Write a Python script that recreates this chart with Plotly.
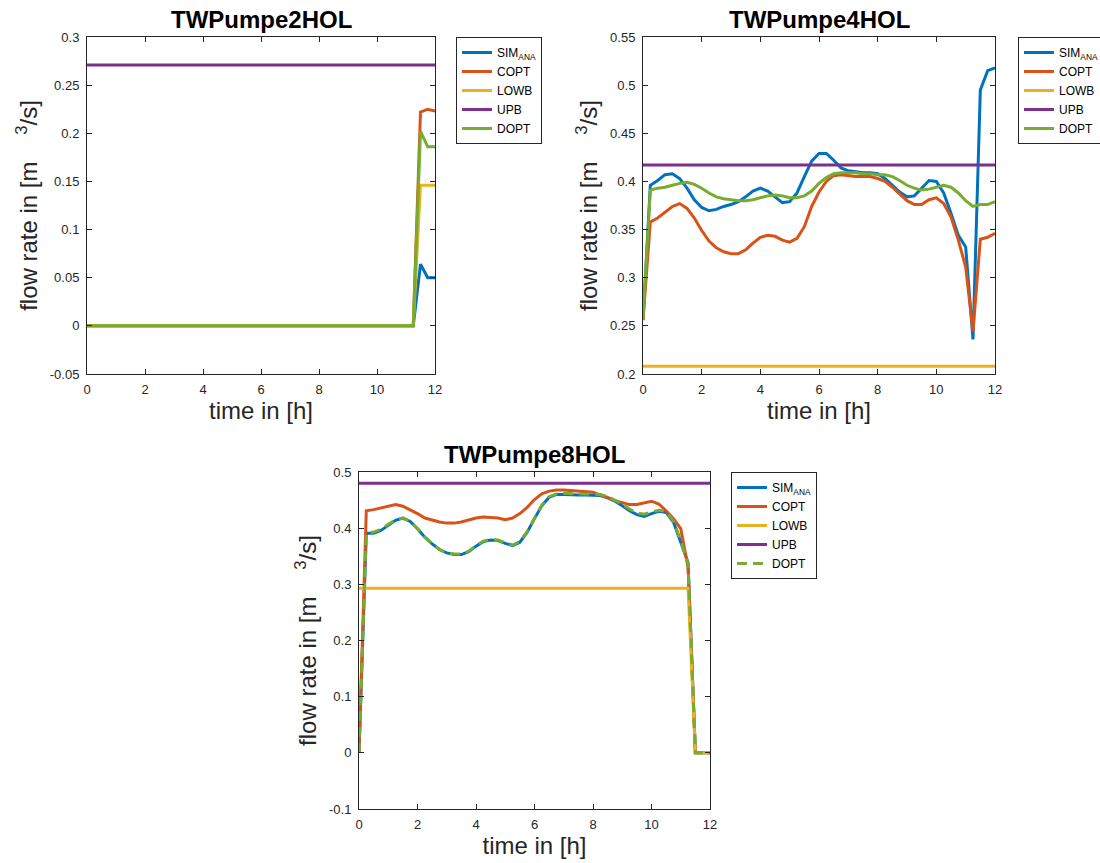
import plotly.graph_objects as go

# ---------------- data ----------------
T = [0, 0.25, 0.5, 0.75, 1, 1.25, 1.5, 1.75, 2, 2.25, 2.5, 2.75, 3, 3.25, 3.5, 3.75,
     4, 4.25, 4.5, 4.75, 5, 5.25, 5.5, 5.75, 6, 6.25, 6.5, 6.75, 7, 7.25, 7.5, 7.75,
     8, 8.25, 8.5, 8.75, 9, 9.25, 9.5, 9.75, 10, 10.25, 10.5, 10.75, 11, 11.25, 11.5, 11.75, 12]

# TWPumpe2HOL
P2_SIM = [0, 0, 0, 0, 0, 0, 0, 0, 0, 0, 0, 0, 0, 0, 0, 0,
          0, 0, 0, 0, 0, 0, 0, 0, 0, 0, 0, 0, 0, 0, 0, 0,
          0, 0, 0, 0, 0, 0, 0, 0, 0, 0, 0, 0, 0, 0, 0.064, 0.050, 0.050]
P2_COPT = [0, 0, 0, 0, 0, 0, 0, 0, 0, 0, 0, 0, 0, 0, 0, 0,
           0, 0, 0, 0, 0, 0, 0, 0, 0, 0, 0, 0, 0, 0, 0, 0,
           0, 0, 0, 0, 0, 0, 0, 0, 0, 0, 0, 0, 0, 0, 0.222, 0.225, 0.223]
P2_LOWB = [0, 0, 0, 0, 0, 0, 0, 0, 0, 0, 0, 0, 0, 0, 0, 0,
           0, 0, 0, 0, 0, 0, 0, 0, 0, 0, 0, 0, 0, 0, 0, 0,
           0, 0, 0, 0, 0, 0, 0, 0, 0, 0, 0, 0, 0, 0, 0.146, 0.146, 0.146]
P2_UPB = [0.271, 0.271]
P2_UPB_T = [0, 12]
P2_DOPT = [0, 0, 0, 0, 0, 0, 0, 0, 0, 0, 0, 0, 0, 0, 0, 0,
           0, 0, 0, 0, 0, 0, 0, 0, 0, 0, 0, 0, 0, 0, 0, 0,
           0, 0, 0, 0, 0, 0, 0, 0, 0, 0, 0, 0, 0, 0, 0.202, 0.186, 0.186]

# TWPumpe4HOL
P4_SIM = [0.256, 0.396, 0.401, 0.407, 0.408, 0.403, 0.393, 0.381, 0.373, 0.3695, 0.371, 0.374,
          0.376, 0.379, 0.384, 0.390, 0.393, 0.390, 0.384, 0.378, 0.379, 0.388, 0.405, 0.421,
          0.429, 0.429, 0.422, 0.414, 0.411, 0.410, 0.409, 0.409, 0.408, 0.403, 0.396, 0.389,
          0.384, 0.385, 0.393, 0.401, 0.400, 0.388, 0.367, 0.344, 0.332, 0.236, 0.495, 0.515, 0.518]
P4_COPT = [0.256, 0.358, 0.362, 0.368, 0.374, 0.377, 0.372, 0.362, 0.349, 0.338, 0.331, 0.327,
           0.325, 0.325, 0.329, 0.336, 0.342, 0.344, 0.343, 0.339, 0.337, 0.341, 0.353, 0.374,
           0.389, 0.400, 0.406, 0.407, 0.406, 0.405, 0.405, 0.405, 0.403, 0.400, 0.394, 0.387,
           0.380, 0.376, 0.376, 0.381, 0.383, 0.377, 0.363, 0.339, 0.311, 0.244, 0.340, 0.342, 0.346]
P4_LOWB = [0.208, 0.208]
P4_UPB = [0.417, 0.417]
P4_B_T = [0, 12]
P4_DOPT = [0.256, 0.391, 0.393, 0.394, 0.396, 0.398, 0.399, 0.397, 0.393, 0.388, 0.384, 0.382,
           0.381, 0.380, 0.380, 0.381, 0.383, 0.385, 0.386, 0.385, 0.383, 0.383, 0.385, 0.390,
           0.398, 0.404, 0.408, 0.409, 0.409, 0.409, 0.408, 0.408, 0.407, 0.407, 0.405, 0.401,
           0.396, 0.393, 0.391, 0.392, 0.394, 0.396, 0.394, 0.388, 0.380, 0.374, 0.376, 0.376, 0.379]

# TWPumpe8HOL
P8_SIM = [0, 0.391, 0.391, 0.396, 0.405, 0.414, 0.418, 0.412, 0.399, 0.384, 0.372, 0.362,
          0.356, 0.353, 0.353, 0.358, 0.368, 0.376, 0.379, 0.378, 0.373, 0.369, 0.375, 0.393,
          0.417, 0.440, 0.455, 0.460, 0.460, 0.459, 0.459, 0.459, 0.459, 0.458, 0.454, 0.448,
          0.440, 0.431, 0.424, 0.421, 0.426, 0.430, 0.428, 0.411, 0.375, 0.339, 0, 0, 0]
P8_COPT = [0, 0.431, 0.433, 0.436, 0.440, 0.442, 0.439, 0.433, 0.426, 0.418, 0.414, 0.411,
           0.409, 0.409, 0.411, 0.415, 0.418, 0.420, 0.419, 0.418, 0.415, 0.418, 0.426, 0.437,
           0.451, 0.461, 0.466, 0.468, 0.468, 0.467, 0.467, 0.466, 0.464, 0.459, 0.455, 0.449,
           0.445, 0.442, 0.442, 0.445, 0.448, 0.443, 0.431, 0.417, 0.399, 0.330, 0, 0, 0]
P8_LOWB = [0.293, 0.293, 0.293, 0.293, 0.293, 0.293, 0.293, 0.293, 0.293, 0.293, 0.293, 0.293,
           0.293, 0.293, 0.293, 0.293, 0.293, 0.293, 0.293, 0.293, 0.293, 0.293, 0.293, 0.293,
           0.293, 0.293, 0.293, 0.293, 0.293, 0.293, 0.293, 0.293, 0.293, 0.293, 0.293, 0.293,
           0.293, 0.293, 0.293, 0.293, 0.293, 0.293, 0.293, 0.293, 0.293, 0.293, 0, 0, 0]
P8_UPB = [0.480, 0.480]
P8_B_T = [0, 12]
P8_DOPT = [0, 0.391, 0.393, 0.398, 0.407, 0.415, 0.418, 0.412, 0.399, 0.384, 0.372, 0.362,
           0.356, 0.354, 0.354, 0.359, 0.369, 0.377, 0.380, 0.379, 0.374, 0.370, 0.376, 0.394,
           0.418, 0.441, 0.456, 0.461, 0.462, 0.461, 0.461, 0.461, 0.461, 0.460, 0.456, 0.450,
           0.443, 0.434, 0.427, 0.425, 0.429, 0.432, 0.430, 0.413, 0.378, 0.336, 0, 0, 0]

TITLES = ["TWPumpe2HOL", "TWPumpe4HOL", "TWPumpe8HOL"]
NAMES = ["SIM<sub>ANA</sub>", "COPT", "LOWB", "UPB", "DOPT"]
XTICKS = [0, 2, 4, 6, 8, 10, 12]
Y2_TICKS = [-0.05, 0, 0.05, 0.1, 0.15, 0.2, 0.25, 0.3]
Y2_LABELS = ["-0.05", "0", "0.05", "0.1", "0.15", "0.2", "0.25", "0.3"]
Y4_TICKS = [0.2, 0.25, 0.3, 0.35, 0.4, 0.45, 0.5, 0.55]
Y4_LABELS = ["0.2", "0.25", "0.3", "0.35", "0.4", "0.45", "0.5", "0.55"]
Y8_TICKS = [-0.1, 0, 0.1, 0.2, 0.3, 0.4, 0.5]
Y8_LABELS = ["-0.1", "0", "0.1", "0.2", "0.3", "0.4", "0.5"]

# ---------------- style ----------------
COLORS = ["#0072BD", "#D95319", "#EDB120", "#7E2F8E", "#77AC30"]
W, H = 1100, 863
LW = 3
FONT = "Liberation Sans, Arial, Helvetica, sans-serif"
AX = "#262626"

# axes boxes in pixels: (left, right, top, bottom)
BOXES = [(87, 435, 37, 374), (643, 995, 37, 374), (359, 710, 472, 809)]
LEGPOS = [(456, 37), (1018, 37), (731, 472)]

fig = go.Figure()

series = [
    [(T, P2_SIM), (T, P2_COPT), (T, P2_LOWB), (P2_UPB_T, P2_UPB), (T, P2_DOPT)],
    [(T, P4_SIM), (T, P4_COPT), (P4_B_T, P4_LOWB), (P4_B_T, P4_UPB), (T, P4_DOPT)],
    [(T, P8_SIM), (T, P8_COPT), (T, P8_LOWB), (P8_B_T, P8_UPB), (T, P8_DOPT)],
]
yticks = [(Y2_TICKS, Y2_LABELS, [-0.05, 0.3]),
          (Y4_TICKS, Y4_LABELS, [0.2, 0.55]),
          (Y8_TICKS, Y8_LABELS, [-0.1, 0.5])]

ylabel = "flow rate in [m\u00a0\u00a0\u00a0\u00a0<sup>3</sup>/s]"

layout_axes = {}
for i in range(3):
    xa = "x" if i == 0 else f"x{i+1}"
    ya = "y" if i == 0 else f"y{i+1}"
    leg = "legend" if i == 0 else f"legend{i+1}"
    for j, (xs, ys) in enumerate(series[i]):
        dash = "10px,6px" if (i == 2 and j == 4) else "solid"
        fig.add_trace(go.Scatter(
            x=xs, y=ys, mode="lines", name=NAMES[j],
            line=dict(color=COLORS[j], width=LW, dash=dash),
            xaxis=xa, yaxis=ya, legend=leg, showlegend=True))
    l, r, t, b = BOXES[i]
    xdom = [l / W, r / W]
    ydom = [1 - b / H, 1 - t / H]
    tv, tt, rng = yticks[i]
    common = dict(showline=True, linecolor=AX, linewidth=1, mirror="ticks",
                  ticks="inside", ticklen=5, tickcolor=AX, tickwidth=1,
                  showgrid=False, zeroline=False,
                  tickfont=dict(family=FONT, size=13, color=AX))
    layout_axes["xaxis" if i == 0 else f"xaxis{i+1}"] = dict(
        domain=xdom, range=[0, 12], tickvals=XTICKS, ticktext=[str(v) for v in XTICKS],
        anchor=ya, ticklabelstandoff=3,
        title=dict(text="time in [h]", font=dict(family=FONT, size=24, color=AX), standoff=5),
        **common)
    layout_axes["yaxis" if i == 0 else f"yaxis{i+1}"] = dict(
        domain=ydom, range=rng, tickvals=tv, ticktext=tt, anchor=xa,
        ticklabelstandoff=4,
        title=dict(text=ylabel, font=dict(family=FONT, size=24, color=AX), standoff=5),
        **common)
    lx, ly = LEGPOS[i]
    layout_axes[leg] = dict(
        x=lx / W, y=1 - ly / H, xanchor="left", yanchor="top",
        xref="paper", yref="paper",
        bgcolor="white", bordercolor=AX, borderwidth=1,
        font=dict(family=FONT, size=12, color="black"),
        itemwidth=30, tracegroupgap=0)

annotations = []
for i in range(3):
    l, r, t, b = BOXES[i]
    annotations.append(dict(
        text=f"<b>{TITLES[i]}</b>", x=(l + r) / 2 / W, y=1 - t / H,
        xref="paper", yref="paper", xanchor="center", yanchor="bottom",
        yshift=2, showarrow=False,
        font=dict(family=FONT, size=24, color="black")))

fig.update_layout(
    width=W, height=H,
    margin=dict(l=0, r=0, t=0, b=0, autoexpand=False),
    paper_bgcolor="white", plot_bgcolor="white",
    annotations=annotations,
    **layout_axes)

fig.write_html("out.html")
